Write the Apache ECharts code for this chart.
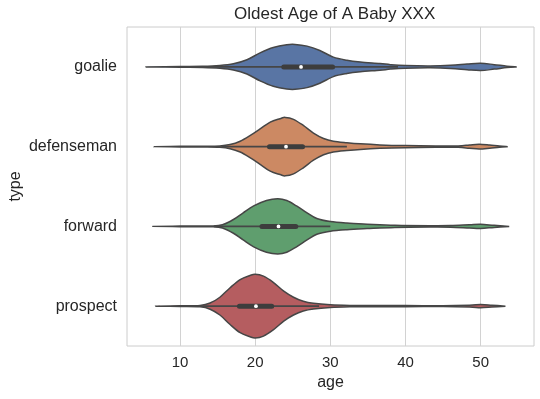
<!DOCTYPE html>
<html>
<head>
<meta charset="utf-8">
<script src="https://cdn.jsdelivr.net/npm/echarts@6/dist/echarts.min.js"></script>
<style>
  html, body { margin: 0; padding: 0; background: #fff; }
  #main { width: 540px; height: 399px; }
</style>
</head>
<body>
<div id="main"></div>
<script>
// categories + ticks
var types = ['goalie', 'defenseman', 'forward', 'prospect'];
var xTicks = [10, 20, 30, 40, 50];
var colors = ['#5975a4', '#cc8963', '#5f9e6e', '#b55d60'];

// violin outlines: age -> half width (density)
var goalieAge = [5.5, 10, 13, 15.3, 17.1, 18.9, 20.65, 22.4, 24.2, 25.3, 26.9, 28.6, 30.4, 32.2, 34, 36.6, 38, 40, 43.3, 46, 48.2, 50, 51.8, 53.5, 54.8];
var goalieDens = [0, 0.3, 0.5, 1.3, 3, 7, 13.7, 19, 21.7, 22, 20.3, 16, 9.5, 6.5, 4.8, 3.3, 2.2, 1.3, 0.9, 1.5, 2.8, 3.6, 2.2, 0.7, 0];
var defenseAge = [6.6, 10, 13, 15.3, 16.66, 18, 19.3, 20.65, 22, 23.3, 24, 25.1, 26.4, 27.75, 29.1, 30.4, 32.2, 34, 36.6, 40, 44, 47, 48.5, 49.8, 51.2, 52.5, 53.6];
var defenseDens = [0, 0.3, 0.4, 0.7, 2, 5.3, 10.7, 17.3, 24, 27.3, 28.6, 26.7, 20.7, 13.3, 8, 5.3, 3.8, 2.7, 1.7, 1, 0.6, 0.7, 1.6, 2.3, 1.5, 0.5, 0];
var forwardAge = [6.4, 10, 14.4, 15.8, 17.1, 18.4, 19.8, 21.5, 23, 24.2, 25.5, 26.9, 28.2, 30, 32.2, 34.9, 38.6, 43.3, 46, 48.5, 50, 51.8, 53.8];
var forwardDens = [0, 0.3, 0.4, 2, 6.7, 13.3, 20, 25.3, 27, 25.3, 20, 13.3, 7.7, 4.7, 3.2, 2.2, 1.1, 0.7, 0.8, 1.6, 2, 1, 0];
var prospectAge = [6.8, 10, 12.66, 14, 15.3, 16.66, 18, 19.3, 20, 21.1, 22.4, 23.8, 25.1, 26.4, 27.75, 30, 32.6, 36, 40, 45, 48.5, 50, 51.5, 53.3];
var prospectDens = [0, 0.3, 0.7, 3, 8.7, 18, 26, 30, 31.2, 29.3, 23.3, 14.7, 8.7, 4.7, 2.7, 1.3, 0.7, 0.5, 0.5, 0.4, 0.9, 1.5, 0.9, 0];

// inner box
var q1 = [23.8, 21.9, 20.9, 17.9];
var medians = [26.1, 24.1, 23.1, 20.1];
var q3 = [30.3, 26.3, 25.4, 22.2];
var whiskerLow = [13.5, 15.5, 14.5, 12];
var whiskerHigh = [39, 32.2, 30, 28.5];

var profileAges = [goalieAge, defenseAge, forwardAge, prospectAge];
var profileDens = [goalieDens, defenseDens, forwardDens, prospectDens];
var maxDens = Math.max.apply(null, [].concat(goalieDens, defenseDens, forwardDens, prospectDens));

var font = "'Liberation Sans', Arial, sans-serif";
var ink = '#262626';
var lineGray = '#464646';

var myChart = echarts.init(document.getElementById('main'));

// catmull-rom curve through pts as bezier segments (pts[0] already moved to)
function curveThrough(pts) {
  var d = '';
  for (var k = 0; k < pts.length - 1; k++) {
    var p0 = pts[Math.max(k - 1, 0)], p1 = pts[k], p2 = pts[k + 1], p3 = pts[Math.min(k + 2, pts.length - 1)];
    var c1x = p1[0] + (p2[0] - p0[0]) / 6, c1y = p1[1] + (p2[1] - p0[1]) / 6;
    var c2x = p2[0] - (p3[0] - p1[0]) / 6, c2y = p2[1] - (p3[1] - p1[1]) / 6;
    d += ' C' + c1x.toFixed(2) + ' ' + c1y.toFixed(2) + ' ' + c2x.toFixed(2) + ' ' + c2y.toFixed(2) + ' ' + p2[0].toFixed(2) + ' ' + p2[1].toFixed(2);
  }
  return d;
}

function renderViolin(params, api) {
  var i = api.value(1);
  var ages = profileAges[i], dens = profileDens[i];
  var cy = api.coord([medians[i], i])[1];
  var band = api.size([0, 1])[1];
  var scale = band * 0.4 / maxDens;
  var top = [], bottom = [];
  var k;
  for (k = 0; k < ages.length; k++) {
    top.push([api.coord([ages[k], i])[0], cy - dens[k] * scale]);
  }
  for (k = ages.length - 1; k >= 0; k--) {
    bottom.push([api.coord([ages[k], i])[0], cy + dens[k] * scale]);
  }
  var pathData = 'M' + top[0][0] + ' ' + top[0][1] + curveThrough(top) + curveThrough(bottom) + ' Z';

  var xw0 = api.coord([whiskerLow[i], i])[0];
  var xw1 = api.coord([whiskerHigh[i], i])[0];
  var xq1 = api.coord([q1[i], i])[0];
  var xq3 = api.coord([q3[i], i])[0];
  var xm = api.coord([medians[i], i])[0];
  return {
    type: 'group',
    children: [
      {
        type: 'path',
        shape: { pathData: pathData },
        style: { fill: colors[i], stroke: lineGray, lineWidth: 1.5 }
      },
      {
        type: 'line',
        shape: { x1: xw0, y1: cy, x2: xw1, y2: cy },
        style: { stroke: lineGray, lineWidth: 1.6 }
      },
      {
        type: 'line',
        shape: { x1: xq1, y1: cy, x2: xq3, y2: cy },
        style: { stroke: '#3d3d3d', lineWidth: 5, lineCap: 'round' }
      },
      {
        type: 'circle',
        shape: { cx: xm, cy: cy, r: 1.9 },
        style: { fill: '#ffffff' }
      }
    ]
  };
}

var option = {
  animation: false,
  title: {
    text: 'Oldest Age of A Baby XXX',
    left: 229,
    top: 1,
    textStyle: { fontFamily: font, fontSize: 17, fontWeight: 'normal', color: ink }
  },
  grid: {
    left: 127,
    right: 6,
    top: 27,
    bottom: 53,
    outerBoundsMode: 'none',
    show: true,
    borderColor: '#cccccc',
    borderWidth: 1
  },
  xAxis: {
    type: 'value',
    min: 2.94,
    max: 57.1,
    name: 'age',
    nameLocation: 'middle',
    nameGap: 28,
    nameTextStyle: { fontFamily: font, fontSize: 16, color: ink },
    axisLine: { show: false },
    axisTick: { show: false, customValues: xTicks },
    axisLabel: { customValues: xTicks, fontFamily: font, fontSize: 15, color: ink, margin: 9 },
    splitLine: { show: true, lineStyle: { color: '#d2d2d2', width: 1 } }
  },
  yAxis: {
    type: 'category',
    data: types,
    inverse: true,
    name: 'type',
    nameLocation: 'middle',
    nameGap: 103,
    nameRotate: 90,
    nameMoveOverlap: false,
    nameTextStyle: { fontFamily: font, fontSize: 16, color: ink },
    axisLine: { show: false },
    axisTick: { show: false },
    splitLine: { show: false },
    axisLabel: { fontFamily: font, fontSize: 16, color: ink, margin: 10 }
  },
  series: [
    {
      type: 'custom',
      renderItem: renderViolin,
      data: types.map(function (t, i) { return [medians[i], i]; }),
      clip: true
    }
  ]
};

myChart.setOption(option);
</script>
</body>
</html>
